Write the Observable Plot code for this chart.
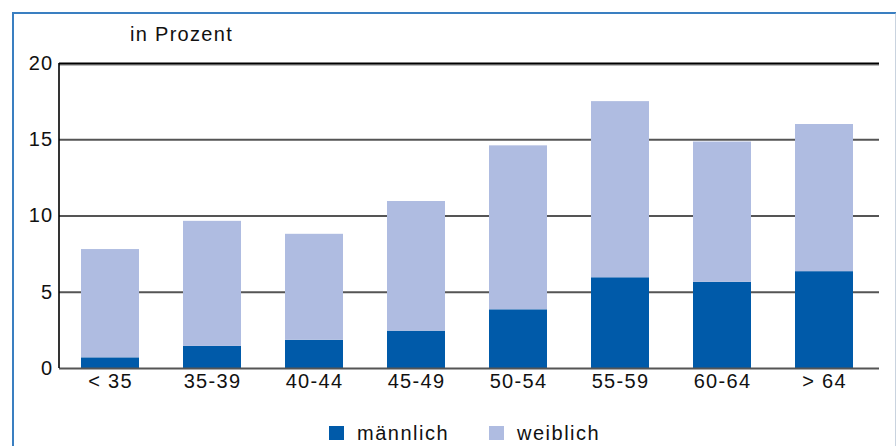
<!DOCTYPE html>
<html>
<head>
<meta charset="utf-8">
<script src="https://cdn.jsdelivr.net/npm/d3@7"></script>
<script src="https://cdn.jsdelivr.net/npm/@observablehq/plot@0.6"></script>
<style>
  html, body { margin: 0; padding: 0; background: #fff; }
  #wrap { position: relative; width: 896px; height: 446px; overflow: hidden; font-family: "Liberation Sans", Arial, sans-serif; }
  #frame { position: absolute; left: 12px; top: 12px; width: 885px; height: 460px; border-top: 2px solid #3a7fc1; border-left: 2px solid #3a7fc1; border-right: 2px solid #c9d3df; box-sizing: border-box; }
  #unit { position: absolute; left: 130px; top: 24px; font-size: 20px; line-height: 20px; letter-spacing: 1.3px; color: #111; }
  #legend { position: absolute; top: 423px; left: 329px; font-size: 20px; line-height: 20px; letter-spacing: 1.5px; color: #111; display: flex; align-items: center; }
  .sw { display: inline-block; width: 15px; height: 14px; margin-right: 13px; }
  .item { display: flex; align-items: center; }
  #chart { position: absolute; left: 0; top: 0; }
  #chart svg text { letter-spacing: 1.3px; }
</style>
</head>
<body>
<div id="wrap">
  <div id="frame"></div>
  <div id="chart"></div>
  <div id="unit">in Prozent</div>
  <div id="legend">
    <div class="item"><span class="sw" style="background:#005aa9"></span>männlich</div>
    <div class="item" style="margin-left:40px"><span class="sw" style="background:#afbce1"></span>weiblich</div>
  </div>
</div>
<script>
const categories = ["< 35", "35-39", "40-44", "45-49", "50-54", "55-59", "60-64", "> 64"];
const maennlich = [0.7, 1.45, 1.85, 2.45, 3.85, 5.95, 5.65, 6.35];
const gesamt = [7.8, 9.65, 8.8, 10.95, 14.6, 17.5, 14.85, 16.0];
const weiblich = gesamt.map((t, i) => +(t - maennlich[i]).toFixed(2));
const seriesNames = ["männlich", "weiblich"];
const seriesColors = ["#005aa9", "#afbce1"];
const yTicks = [0, 5, 10, 15, 20];

const data = [];
categories.forEach((c, i) => {
  data.push({cat: c, series: seriesNames[0], value: maennlich[i], order: 0});
  data.push({cat: c, series: seriesNames[1], value: weiblich[i], order: 1});
});

// vertical y-axis line drawn through the library's y scale
function yAxisLine(index, scales, values, dimensions) {
  const ns = "http://www.w3.org/2000/svg";
  const line = document.createElementNS(ns, "line");
  const x = dimensions.marginLeft;
  line.setAttribute("x1", x);
  line.setAttribute("x2", x);
  line.setAttribute("y1", scales.y(yTicks[0]));
  line.setAttribute("y2", scales.y(yTicks[yTicks.length - 1]));
  line.setAttribute("stroke", "#000");
  line.setAttribute("stroke-width", 1.6);
  return line;
}

const chart = Plot.plot({
  width: 896,
  height: 446,
  marginTop: 63,
  marginBottom: 78,
  marginLeft: 59,
  marginRight: 17,
  style: {fontFamily: "'Liberation Sans', Arial, sans-serif", fontSize: "20px", color: "#111", background: "transparent", overflow: "visible"},
  x: {domain: categories, paddingInner: 0.43, paddingOuter: 0.2, align: 0.45, label: null, tickSize: 0, tickPadding: 5},
  y: {domain: [0, 20], ticks: yTicks, label: null, tickSize: 0, tickPadding: 6},
  color: {domain: seriesNames, range: seriesColors},
  marks: [
    Plot.ruleY([5, 10, 15], {stroke: "#555", strokeWidth: 1.8}),
    Plot.ruleY([20], {stroke: "#bbb", strokeWidth: 2, dy: 1.5}),
    Plot.ruleY([20], {stroke: "#000", strokeWidth: 2}),
    Plot.barY(data, Plot.stackY({x: "cat", y: "value", fill: "series", order: "order"})),
    Plot.ruleY([0], {stroke: "#555", strokeWidth: 1.8}),
    Plot.axisX({tickSize: 0, tickPadding: 5, label: null}),
    Plot.axisY({ticks: yTicks, tickSize: 0, tickPadding: 6, label: null}),
    yAxisLine
  ]
});
document.getElementById("chart").appendChild(chart);
</script>
</body>
</html>
